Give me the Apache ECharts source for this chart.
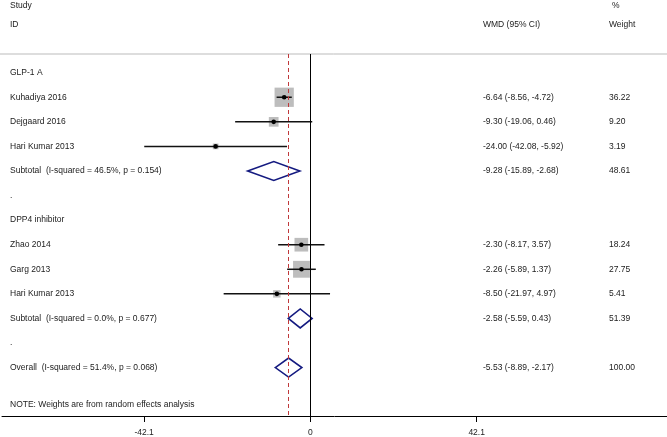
<!DOCTYPE html>
<html>
<head>
<meta charset="utf-8">
<script src="https://cdn.jsdelivr.net/npm/echarts@6/dist/echarts.min.js"></script>
<style>
html,body{margin:0;padding:0;background:#fff;}
#chart{width:667px;height:437px;}
</style>
</head>
<body>
<div id="chart"></div>
<script>
/* data */
var groupNames = ['GLP-1 A', 'DPP4 inhibitor'];
var groupRows = [0, 6];
var dotRows = [5, 11];

var studyNames = ['Kuhadiya 2016', 'Dejgaard 2016', 'Hari Kumar 2013', 'Zhao 2014', 'Garg 2013', 'Hari Kumar 2013'];
var studyRows = [1, 2, 3, 7, 8, 9];
var studyEst = [-6.64, -9.30, -24.00, -2.30, -2.26, -8.50];
var studyLo = [-8.56, -19.06, -42.08, -8.17, -5.89, -21.97];
var studyHi = [-4.72, 0.46, -5.92, 3.57, 1.37, 4.97];
var studyWeight = [36.22, 9.20, 3.19, 18.24, 27.75, 5.41];

var poolNames = ['Subtotal  (I-squared = 46.5%, p = 0.154)', 'Subtotal  (I-squared = 0.0%, p = 0.677)', 'Overall  (I-squared = 51.4%, p = 0.068)'];
var poolRows = [4, 10, 12];
var poolEst = [-9.28, -2.58, -5.53];
var poolLo = [-15.89, -5.59, -8.89];
var poolHi = [-2.68, 0.43, -2.17];
var poolWeight = [48.61, 51.39, 100.00];

var overallEst = -5.53;
var tickValues = [-42.1, 0, 42.1];

var FONT = 'Liberation Sans, Arial, sans-serif';
var TXT = '#222';

function wmdText(e, l, h) {
    return e.toFixed(2) + ' (' + l.toFixed(2) + ', ' + h.toFixed(2) + ')';
}

var studyData = studyNames.map(function (n, i) {
    return [studyRows[i], studyEst[i], studyLo[i], studyHi[i], studyWeight[i]];
});
var poolData = poolNames.map(function (n, i) {
    return [poolRows[i], poolEst[i], poolLo[i], poolHi[i]];
});

/* text rows: [row, left text, wmd text, weight text] */
var textData = [];
groupNames.forEach(function (n, i) { textData.push([groupRows[i], n, '', '']); });
dotRows.forEach(function (r) { textData.push([r, '.', '', '']); });
studyNames.forEach(function (n, i) {
    textData.push([studyRows[i], n, wmdText(studyEst[i], studyLo[i], studyHi[i]), studyWeight[i].toFixed(2)]);
});
poolNames.forEach(function (n, i) {
    textData.push([poolRows[i], n, wmdText(poolEst[i], poolLo[i], poolHi[i]), poolWeight[i].toFixed(2)]);
});
textData.push([13.5, 'NOTE: Weights are from random effects analysis', '', '']);

function txt(x, y, s) {
    return {
        type: 'text',
        style: { x: x, y: y, text: s, font: '8.5px ' + FONT, fill: TXT, textVerticalAlign: 'middle' }
    };
}

var option = {
    animation: false,
    grid: { left: 2, right: 0, top: 54, bottom: 21 },
    xAxis: {
        type: 'value',
        min: -78.1,
        max: 90.3,
        splitLine: { show: false },
        axisLine: { show: true, onZero: false, lineStyle: { color: '#000', width: 1 } },
        axisTick: { show: true, customValues: tickValues, length: 6, lineStyle: { color: '#000' } },
        axisLabel: {
            customValues: tickValues,
            margin: 12,
            fontSize: 8.5,
            fontFamily: FONT,
            color: TXT,
            formatter: function (v) { return String(v); }
        }
    },
    yAxis: {
        type: 'value',
        inverse: true,
        min: -0.76,
        max: 13.97,
        show: false
    },
    graphic: [
        txt(10, 6, 'Study'),
        txt(10, 25, 'ID'),
        txt(612, 6, '%'),
        txt(483, 25, 'WMD (95% CI)'),
        txt(609, 25, 'Weight'),
        { type: 'line', shape: { x1: 0, y1: 54, x2: 667, y2: 54 }, style: { stroke: '#bbb', lineWidth: 1 } }
    ],
    series: [
        {
            type: 'line',
            data: [],
            silent: true,
            markLine: {
                silent: true,
                symbol: 'none',
                label: { show: false },
                data: [
                    { xAxis: 0, lineStyle: { color: '#000', width: 1, type: 'solid' } },
                    { xAxis: overallEst, lineStyle: { color: '#c0393b', width: 1, type: [4, 3] } }
                ]
            }
        },
        {
            name: 'studies',
            type: 'custom',
            data: studyData,
            renderItem: function (params, api) {
                var row = api.value(0);
                var c = api.coord([api.value(1), row]);
                var l = api.coord([api.value(2), row]);
                var h = api.coord([api.value(3), row]);
                var s = 3.2 * Math.sqrt(api.value(4));
                return {
                    type: 'group',
                    children: [
                        { type: 'rect', shape: { x: c[0] - s / 2, y: c[1] - s / 2, width: s, height: s }, style: { fill: '#bdbdbd' } },
                        { type: 'line', shape: { x1: l[0], y1: l[1], x2: h[0], y2: h[1] }, style: { stroke: '#111', lineWidth: 1.5 } },
                        { type: 'circle', shape: { cx: c[0], cy: c[1], r: 2.3 }, style: { fill: '#000' } }
                    ]
                };
            }
        },
        {
            name: 'pooled',
            type: 'custom',
            data: poolData,
            renderItem: function (params, api) {
                var row = api.value(0);
                var c = api.coord([api.value(1), row]);
                var l = api.coord([api.value(2), row]);
                var h = api.coord([api.value(3), row]);
                var hh = 9.5;
                return {
                    type: 'polygon',
                    shape: { points: [[l[0], l[1]], [c[0], c[1] - hh], [h[0], h[1]], [c[0], c[1] + hh]] },
                    style: { fill: 'none', stroke: '#141a80', lineWidth: 1.6 }
                };
            }
        },
        {
            name: 'text',
            type: 'custom',
            data: textData,
            renderItem: function (params, api) {
                var row = api.value(0);
                var y = api.coord([0, row])[1];
                var d = textData[params.dataIndex];
                return {
                    type: 'group',
                    children: [txt(10, y, d[1]), txt(483, y, d[2]), txt(609, y, d[3])]
                };
            }
        }
    ]
};

var myChart = echarts.init(document.getElementById('chart'));
myChart.setOption(option);
</script>
</body>
</html>
